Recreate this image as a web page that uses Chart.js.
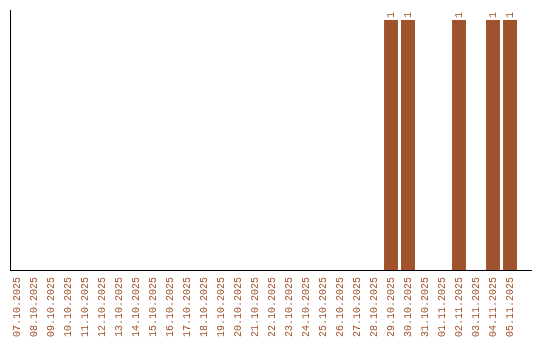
<!DOCTYPE html>
<html>
<head>
<meta charset="utf-8">
<script src="https://cdn.jsdelivr.net/npm/chart.js@4"></script>
<style>
html,body{margin:0;padding:0;background:#fff;}
#wrap{width:540px;height:340px;}
</style>
</head>
<body>
<div id="wrap"><canvas id="c" width="540" height="340"></canvas></div>
<script>
const categories = ['07.10.2025','08.10.2025','09.10.2025','10.10.2025','11.10.2025','12.10.2025','13.10.2025','14.10.2025','15.10.2025','16.10.2025','17.10.2025','18.10.2025','19.10.2025','20.10.2025','21.10.2025','22.10.2025','23.10.2025','24.10.2025','25.10.2025','26.10.2025','27.10.2025','28.10.2025','29.10.2025','30.10.2025','31.10.2025','01.11.2025','02.11.2025','03.11.2025','04.11.2025','05.11.2025'];
const counts = [0,0,0,0,0,0,0,0,0,0,0,0,0,0,0,0,0,0,0,0,0,0,1,1,0,0,1,0,1,1];

const barColor = '#a0522d';
const textColor = '#a0522d';
const fontFamily = '"Liberation Mono", "DejaVu Sans Mono", monospace';

const points = categories.map((c, i) => ({x: i, y: counts[i]}));

const valueLabels = {
  id: 'valueLabels',
  afterDatasetsDraw(chart) {
    const ctx = chart.ctx;
    const meta = chart.getDatasetMeta(0);
    ctx.save();
    ctx.font = '10px ' + fontFamily;
    ctx.fillStyle = textColor;
    meta.data.forEach((bar, i) => {
      const v = counts[i];
      if (!v) return;
      ctx.save();
      ctx.translate(bar.x, bar.y - 2);
      ctx.rotate(-Math.PI / 2);
      ctx.textAlign = 'left';
      ctx.textBaseline = 'middle';
      ctx.fillText(String(v), 0, 0);
      ctx.restore();
    });
    ctx.restore();
  }
};

new Chart(document.getElementById('c'), {
  type: 'bar',
  data: {
    datasets: [{
      data: points,
      backgroundColor: barColor,
      borderWidth: 0,
      barPercentage: 0.82,
      categoryPercentage: 1
    }]
  },
  options: {
    responsive: false,
    animation: false,
    devicePixelRatio: 1,
    layout: {padding: {left: 10, top: 10, right: 9, bottom: 0}},
    plugins: {legend: {display: false}, tooltip: {enabled: false}},
    scales: {
      x: {
        type: 'linear',
        offset: false,
        min: -7 / 17,
        max: 30.235,
        grid: {display: false, drawTicks: false},
        border: {display: true, color: '#000', width: 1},
        afterFit(scale) {
          scale.height = 70;
          scale.paddingLeft = 0;
          scale.paddingRight = 0;
        },
        ticks: {
          stepSize: 1,
          autoSkip: false,
          includeBounds: false,
          maxRotation: 90,
          minRotation: 90,
          padding: 7,
          color: textColor,
          font: {family: fontFamily, size: 10},
          callback: (v) => (Number.isInteger(v) && categories[v] !== undefined) ? categories[v] : ''
        }
      },
      y: {
        min: 0,
        max: 1.04,
        grid: {display: false, drawTicks: false},
        border: {display: true, color: '#000', width: 1},
        afterFit(scale) {
          scale.paddingTop = 0;
          scale.paddingBottom = 0;
        },
        ticks: {display: false}
      }
    }
  },
  plugins: [valueLabels]
});
</script>
</body>
</html>
